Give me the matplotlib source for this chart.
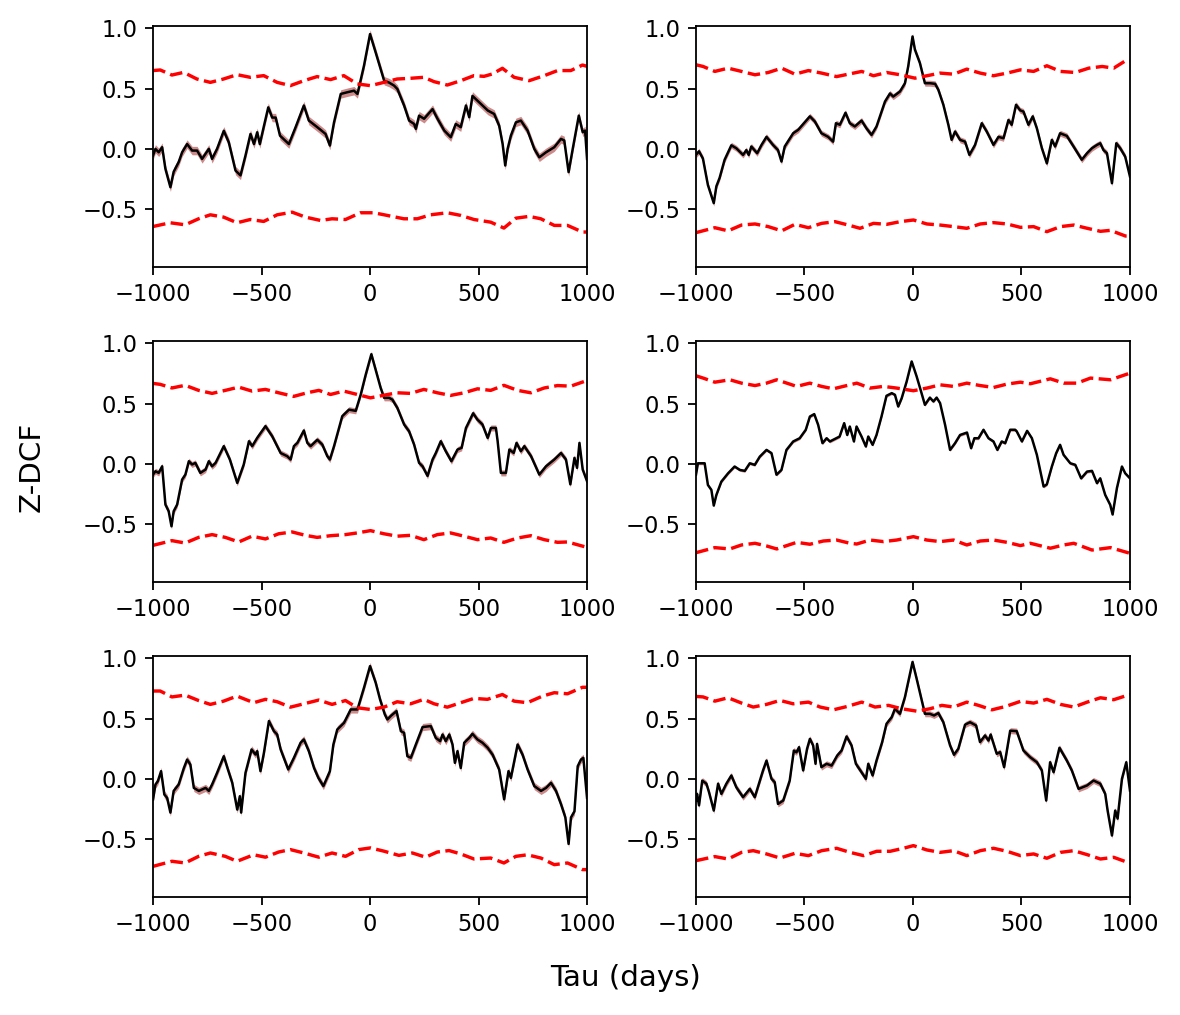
import numpy as np
import matplotlib
matplotlib.use("Agg")
import matplotlib.pyplot as plt

# ==========================================
# DATA (tau in days, value)
# ==========================================
p1_zdcf = [(-1000, -0.055), (-989, 0.0), (-974, -0.028), (-958, 0.014), (-943, -0.166), (-920, -0.318),
           (-905, -0.19), (-882, -0.11), (-866, -0.028), (-843, 0.04), (-820, -0.014), (-797, -0.014),
           (-774, -0.083), (-743, 0.0), (-728, -0.083), (-705, 0.0), (-674, 0.15), (-651, 0.055),
           (-620, -0.18), (-597, -0.22), (-574, -0.055), (-551, 0.124), (-535, 0.04), (-520, 0.138),
           (-508, 0.04), (-489, 0.19), (-469, 0.345), (-451, 0.26), (-435, 0.26), (-415, 0.11),
           (-374, 0.04), (-343, 0.18), (-305, 0.36), (-282, 0.235), (-243, 0.18), (-205, 0.124),
           (-185, 0.028), (-166, 0.22), (-135, 0.456), (-105, 0.47), (-74, 0.483), (-58, 0.456),
           (-28, 0.69), (0, 0.953), (26, 0.80), (65, 0.566), (88, 0.55), (111, 0.525), (126, 0.497),
           (157, 0.36), (180, 0.235), (203, 0.207), (211, 0.166), (226, 0.276), (249, 0.25), (288, 0.33),
           (311, 0.25), (342, 0.152), (372, 0.097), (395, 0.207), (418, 0.18), (442, 0.36), (457, 0.263),
           (472, 0.44), (495, 0.40), (543, 0.318), (572, 0.29), (595, 0.193), (611, 0.04), (623, -0.138),
           (634, 0.0), (649, 0.11), (672, 0.22), (695, 0.235), (726, 0.152), (757, 0.0), (780, -0.07),
           (811, -0.028), (849, 0.014), (880, 0.083), (895, 0.07), (915, -0.193), (934, 0.0),
           (962, 0.276), (980, 0.138), (991, 0.152), (1000, -0.083)]
p1_upper = [(-1000, 0.65), (-967, 0.655), (-913, 0.613), (-859, 0.635), (-798, 0.58), (-736, 0.552),
            (-675, 0.58), (-613, 0.616), (-552, 0.594), (-490, 0.608), (-428, 0.552), (-367, 0.525),
            (-305, 0.566), (-244, 0.60), (-182, 0.575), (-121, 0.608), (-59, 0.539), (2, 0.525),
            (64, 0.552), (125, 0.58), (187, 0.586), (248, 0.594), (295, 0.558), (356, 0.53), (418, 0.566),
            (479, 0.608), (525, 0.602), (564, 0.622), (610, 0.669), (664, 0.594), (733, 0.566),
            (803, 0.608), (864, 0.65), (925, 0.65), (979, 0.696), (1000, 0.685)]
p1_lower = [(-1000, -0.644), (-921, -0.613), (-852, -0.63), (-790, -0.58), (-736, -0.547), (-675, -0.566),
            (-613, -0.613), (-552, -0.586), (-490, -0.602), (-428, -0.547), (-359, -0.525), (-298, -0.566),
            (-228, -0.594), (-175, -0.58), (-113, -0.586), (-44, -0.53), (17, -0.53), (79, -0.552),
            (156, -0.58), (218, -0.58), (279, -0.547), (356, -0.53), (418, -0.552), (479, -0.586),
            (556, -0.608), (617, -0.657), (672, -0.575), (733, -0.56), (787, -0.58), (849, -0.635),
            (910, -0.635), (979, -0.69), (1000, -0.69)]

p2_zdcf = [(-1000, -0.05), (-986, -0.02), (-968, -0.08), (-945, -0.30), (-918, -0.45), (-906, -0.31),
           (-891, -0.24), (-868, -0.09), (-837, 0.03), (-814, 0.005), (-783, -0.05), (-768, -0.01),
           (-757, -0.05), (-745, 0.02), (-718, -0.036), (-698, 0.033), (-675, 0.10), (-645, 0.033),
           (-622, -0.01), (-606, -0.105), (-591, 0.02), (-552, 0.13), (-529, 0.158), (-475, 0.27),
           (-452, 0.227), (-422, 0.13), (-391, 0.10), (-368, 0.06), (-355, 0.213), (-337, 0.2),
           (-311, 0.30), (-291, 0.213), (-268, 0.186), (-237, 0.235), (-214, 0.17), (-191, 0.116),
           (-168, 0.186), (-129, 0.393), (-106, 0.46), (-91, 0.434), (-60, 0.476), (-37, 0.545),
           (-22, 0.684), (-2, 0.933), (9, 0.823), (32, 0.712), (55, 0.545), (78, 0.545), (102, 0.54),
           (117, 0.49), (140, 0.366), (163, 0.2), (178, 0.075), (194, 0.144), (217, 0.075), (240, 0.06),
           (260, -0.05), (286, 0.033), (317, 0.213), (340, 0.144), (371, 0.033), (394, 0.10), (417, 0.088),
           (440, 0.24), (455, 0.2), (475, 0.366), (494, 0.32), (509, 0.31), (532, 0.2), (552, 0.27),
           (571, 0.17), (594, 0.006), (617, -0.12), (640, 0.075), (655, 0.02), (678, 0.13), (709, 0.108),
           (740, 0.02), (778, -0.09), (802, -0.036), (825, 0.006), (848, 0.033), (863, 0.047),
           (878, -0.01), (894, -0.036), (917, -0.285), (937, 0.047), (955, 0.006), (978, -0.064),
           (1000, -0.23)]
p2_upper = [(-1000, 0.698), (-967, 0.684), (-913, 0.643), (-852, 0.67), (-790, 0.643), (-728, 0.615),
            (-667, 0.634), (-605, 0.67), (-544, 0.62), (-482, 0.65), (-421, 0.629), (-352, 0.60),
            (-290, 0.623), (-236, 0.643), (-182, 0.607), (-121, 0.634), (-59, 0.615), (9, 0.587),
            (64, 0.607), (125, 0.629), (187, 0.62), (248, 0.662), (310, 0.629), (371, 0.607), (433, 0.629),
            (495, 0.656), (556, 0.643), (617, 0.69), (680, 0.643), (748, 0.634), (810, 0.67), (872, 0.684),
            (925, 0.67), (979, 0.731), (1000, 0.731)]
p2_lower = [(-1000, -0.695), (-913, -0.654), (-852, -0.68), (-790, -0.632), (-728, -0.623), (-667, -0.645),
            (-605, -0.68), (-544, -0.626), (-482, -0.654), (-421, -0.618), (-359, -0.604), (-298, -0.632),
            (-244, -0.659), (-182, -0.618), (-121, -0.626), (-59, -0.604), (2, -0.59), (64, -0.623),
            (125, -0.632), (187, -0.645), (248, -0.659), (310, -0.623), (371, -0.612), (433, -0.623),
            (495, -0.651), (556, -0.645), (617, -0.687), (680, -0.645), (741, -0.632), (803, -0.659),
            (864, -0.684), (910, -0.676), (979, -0.723), (1000, -0.723)]

p3_zdcf = [(-1000, -0.089), (-989, -0.061), (-974, -0.075), (-958, -0.02), (-943, -0.338), (-928, -0.393),
           (-915, -0.518), (-905, -0.393), (-889, -0.338), (-866, -0.13), (-851, -0.089), (-835, 0.022),
           (-820, -0.005), (-805, 0.008), (-782, -0.075), (-758, -0.047), (-743, 0.022), (-728, -0.02),
           (-712, 0.008), (-674, 0.147), (-646, 0.036), (-612, -0.158), (-582, -0.005), (-558, 0.188),
           (-543, 0.147), (-520, 0.216), (-482, 0.313), (-451, 0.23), (-412, 0.09), (-382, 0.064),
           (-366, 0.036), (-351, 0.147), (-335, 0.174), (-305, 0.277), (-289, 0.174), (-274, 0.147),
           (-243, 0.2), (-220, 0.16), (-197, 0.064), (-185, 0.036), (-166, 0.147), (-128, 0.396),
           (-97, 0.45), (-66, 0.44), (-43, 0.575), (-20, 0.74), (6, 0.91), (26, 0.78), (49, 0.63),
           (65, 0.548), (88, 0.548), (103, 0.533), (126, 0.464), (157, 0.327), (180, 0.27), (203, 0.16),
           (226, 0.008), (242, -0.02), (265, -0.10), (288, 0.036), (303, 0.09), (326, 0.188), (349, 0.105),
           (375, 0.022), (403, 0.119), (422, 0.133), (442, 0.298), (475, 0.42), (495, 0.367), (518, 0.327),
           (542, 0.215), (557, 0.298), (580, 0.298), (588, 0.188), (603, -0.075), (626, -0.075),
           (642, 0.119), (662, 0.091), (675, 0.174), (695, 0.105), (711, 0.147), (742, 0.064),
           (780, -0.089), (811, -0.02), (849, 0.036), (880, 0.09), (903, 0.036), (923, -0.17), (942, 0.05),
           (954, -0.033), (965, 0.174), (980, -0.047), (1000, -0.144)]
p3_upper = [(-1000, 0.668), (-967, 0.66), (-913, 0.63), (-852, 0.652), (-790, 0.61), (-728, 0.585),
            (-667, 0.61), (-605, 0.637), (-544, 0.604), (-482, 0.618), (-421, 0.59), (-352, 0.56),
            (-290, 0.59), (-236, 0.61), (-182, 0.576), (-121, 0.604), (-59, 0.576), (2, 0.548), (64, 0.57),
            (125, 0.59), (187, 0.585), (248, 0.618), (310, 0.59), (371, 0.568), (433, 0.59), (495, 0.623),
            (556, 0.61), (617, 0.652), (680, 0.61), (741, 0.59), (803, 0.63), (864, 0.65), (925, 0.645),
            (1000, 0.692)]
p3_lower = [(-1000, -0.676), (-913, -0.637), (-852, -0.657), (-790, -0.61), (-728, -0.587), (-667, -0.61),
            (-605, -0.648), (-544, -0.60), (-482, -0.623), (-421, -0.58), (-359, -0.565), (-298, -0.593),
            (-244, -0.61), (-182, -0.596), (-113, -0.587), (-59, -0.573), (2, -0.554), (64, -0.58),
            (125, -0.60), (187, -0.593), (248, -0.629), (310, -0.587), (371, -0.573), (433, -0.60),
            (495, -0.629), (556, -0.615), (617, -0.651), (680, -0.615), (741, -0.596), (803, -0.629),
            (864, -0.651), (910, -0.648), (1000, -0.693)]

p4_zdcf = [(-1000, -0.09), (-991, 0.005), (-960, 0.005), (-945, -0.175), (-929, -0.216), (-918, -0.346),
           (-906, -0.258), (-883, -0.147), (-852, -0.078), (-822, -0.022), (-798, -0.05), (-775, -0.058),
           (-752, 0.005), (-729, -0.008), (-706, 0.06), (-675, 0.116), (-652, 0.089), (-629, -0.09),
           (-606, -0.05), (-583, 0.116), (-552, 0.186), (-522, 0.213), (-494, 0.283), (-475, 0.393),
           (-455, 0.413), (-437, 0.324), (-417, 0.172), (-398, 0.213), (-383, 0.186), (-338, 0.227),
           (-317, 0.338), (-303, 0.24), (-291, 0.31), (-272, 0.186), (-260, 0.31), (-237, 0.227),
           (-217, 0.144), (-206, 0.227), (-186, 0.158), (-168, 0.24), (-145, 0.393), (-122, 0.565),
           (-98, 0.587), (-83, 0.573), (-68, 0.476), (-52, 0.545), (-29, 0.684), (-6, 0.85), (17, 0.725),
           (35, 0.615), (55, 0.49), (78, 0.55), (94, 0.518), (109, 0.55), (125, 0.504), (148, 0.324),
           (171, 0.116), (194, 0.172), (217, 0.24), (249, 0.26), (268, 0.13), (283, 0.213), (302, 0.213),
           (325, 0.283), (348, 0.213), (371, 0.186), (389, 0.116), (409, 0.186), (425, 0.172),
           (448, 0.283), (471, 0.283), (478, 0.27), (502, 0.186), (526, 0.274), (548, 0.213), (571, 0.075),
           (602, -0.188), (617, -0.17), (640, -0.022), (660, 0.089), (678, 0.158), (694, 0.075),
           (725, 0.005), (748, -0.008), (775, -0.12), (802, -0.064), (825, -0.058), (848, -0.16),
           (863, -0.12), (886, -0.258), (909, -0.34), (920, -0.42), (940, -0.2), (963, -0.022),
           (978, -0.078), (1000, -0.12)]
p4_upper = [(-1000, 0.731), (-967, 0.712), (-913, 0.678), (-844, 0.698), (-790, 0.67), (-728, 0.65),
            (-675, 0.67), (-628, 0.698), (-536, 0.643), (-475, 0.67), (-421, 0.643), (-367, 0.623),
            (-305, 0.65), (-259, 0.67), (-198, 0.629), (-136, 0.643), (-75, 0.629), (2, 0.607), (64, 0.629),
            (125, 0.656), (187, 0.643), (248, 0.67), (310, 0.65), (371, 0.634), (433, 0.662), (495, 0.678),
            (541, 0.665), (633, 0.706), (695, 0.67), (756, 0.67), (818, 0.712), (910, 0.698), (1000, 0.753)]
p4_lower = [(-1000, -0.737), (-913, -0.695), (-844, -0.706), (-790, -0.673), (-728, -0.659), (-675, -0.681),
            (-628, -0.706), (-536, -0.651), (-475, -0.667), (-413, -0.64), (-352, -0.632), (-290, -0.659),
            (-259, -0.665), (-198, -0.632), (-136, -0.645), (-75, -0.632), (2, -0.604), (64, -0.632),
            (125, -0.645), (187, -0.632), (248, -0.673), (310, -0.64), (371, -0.632), (433, -0.651),
            (495, -0.678), (541, -0.659), (633, -0.70), (695, -0.673), (741, -0.659), (825, -0.715),
            (910, -0.695), (1000, -0.742)]

p5_zdcf = [(-1000, -0.17), (-989, -0.047), (-978, -0.02), (-963, 0.064), (-948, -0.13), (-935, -0.158),
           (-920, -0.28), (-905, -0.10), (-882, -0.047), (-858, 0.09), (-843, 0.16), (-828, 0.119),
           (-812, -0.075), (-789, -0.10), (-758, -0.075), (-743, -0.10), (-728, -0.047), (-705, 0.05),
           (-674, 0.188), (-655, 0.078), (-635, -0.033), (-612, -0.255), (-600, -0.144), (-594, -0.28),
           (-574, 0.05), (-546, 0.244), (-528, 0.202), (-520, 0.23), (-505, 0.064), (-489, 0.216),
           (-466, 0.48), (-443, 0.396), (-428, 0.368), (-412, 0.244), (-377, 0.078), (-351, 0.174),
           (-320, 0.3), (-305, 0.327), (-282, 0.23), (-258, 0.09), (-238, 0.008), (-215, -0.06),
           (-185, 0.064), (-169, 0.285), (-151, 0.41), (-120, 0.465), (-89, 0.576), (-58, 0.576),
           (-28, 0.756), (0, 0.936), (26, 0.798), (46, 0.66), (68, 0.535), (80, 0.493), (98, 0.526),
           (122, 0.562), (142, 0.396), (157, 0.382), (172, 0.188), (188, 0.175), (211, 0.285), (242, 0.43),
           (280, 0.438), (303, 0.34), (323, 0.313), (334, 0.368), (349, 0.313), (365, 0.368), (380, 0.285),
           (391, 0.133), (403, 0.23), (418, 0.09), (434, 0.3), (457, 0.34), (472, 0.374), (495, 0.327),
           (518, 0.3), (542, 0.258), (565, 0.2), (595, 0.078), (618, -0.17), (638, 0.064), (649, 0.008),
           (680, 0.285), (703, 0.2), (726, 0.078), (757, -0.06), (788, -0.10), (811, -0.075),
           (834, -0.033), (857, -0.10), (880, -0.21), (900, -0.32), (915, -0.54), (926, -0.32),
           (942, -0.27), (957, 0.105), (972, 0.16), (983, 0.174), (1000, -0.158)]
p5_upper = [(-1000, 0.729), (-967, 0.729), (-913, 0.68), (-852, 0.695), (-790, 0.65), (-736, 0.618),
            (-675, 0.645), (-613, 0.687), (-536, 0.632), (-482, 0.66), (-428, 0.64), (-367, 0.595),
            (-305, 0.623), (-236, 0.654), (-175, 0.618), (-113, 0.65), (-59, 0.59), (2, 0.576), (64, 0.595),
            (125, 0.64), (187, 0.623), (248, 0.66), (295, 0.623), (356, 0.595), (418, 0.632), (479, 0.668),
            (541, 0.66), (610, 0.70), (664, 0.645), (725, 0.632), (795, 0.687), (849, 0.715), (910, 0.706),
            (979, 0.76), (1000, 0.76)]
p5_lower = [(-1000, -0.726), (-913, -0.684), (-852, -0.698), (-790, -0.643), (-736, -0.615), (-667, -0.643),
            (-613, -0.684), (-536, -0.63), (-482, -0.65), (-421, -0.607), (-367, -0.587), (-305, -0.615),
            (-236, -0.65), (-175, -0.615), (-113, -0.643), (-52, -0.587), (2, -0.573), (64, -0.60),
            (133, -0.635), (195, -0.615), (256, -0.65), (310, -0.607), (364, -0.595), (418, -0.623),
            (479, -0.665), (556, -0.657), (617, -0.698), (672, -0.643), (725, -0.63), (787, -0.657),
            (849, -0.712), (910, -0.698), (979, -0.753), (1000, -0.753)]

p6_zdcf = [(-1000, -0.18), (-995, -0.125), (-986, -0.22), (-971, -0.014), (-952, -0.04), (-940, -0.11),
           (-918, -0.263), (-898, -0.04), (-883, -0.125), (-860, -0.04), (-837, 0.028), (-814, -0.07),
           (-783, -0.152), (-752, -0.083), (-729, -0.152), (-691, 0.07), (-675, 0.152), (-652, 0.0),
           (-637, -0.028), (-622, -0.208), (-598, -0.18), (-568, -0.014), (-549, 0.235), (-537, 0.22),
           (-525, 0.263), (-506, 0.07), (-488, 0.25), (-475, 0.332), (-460, 0.277), (-449, 0.125),
           (-442, 0.29), (-422, 0.097), (-398, 0.125), (-375, 0.11), (-349, 0.194), (-329, 0.235),
           (-306, 0.352), (-283, 0.277), (-263, 0.125), (-237, 0.055), (-217, 0.0), (-206, 0.125),
           (-186, 0.028), (-168, 0.152), (-142, 0.305), (-122, 0.457), (-98, 0.512), (-83, 0.582),
           (-60, 0.54), (-37, 0.679), (-2, 0.97), (17, 0.83), (35, 0.693), (55, 0.54), (78, 0.54),
           (97, 0.526), (117, 0.546), (140, 0.47), (171, 0.277), (189, 0.2), (209, 0.25), (240, 0.45),
           (263, 0.47), (291, 0.443), (309, 0.305), (332, 0.36), (348, 0.318), (358, 0.368), (386, 0.208),
           (402, 0.222), (420, 0.097), (448, 0.40), (478, 0.396), (509, 0.235), (540, 0.18), (571, 0.138),
           (594, 0.07), (614, -0.18), (632, 0.138), (648, 0.055), (675, 0.258), (709, 0.152), (732, 0.07),
           (763, -0.083), (802, -0.055), (832, -0.014), (863, -0.04), (886, -0.125), (897, -0.263),
           (917, -0.47), (932, -0.263), (943, -0.33), (963, 0.0), (983, 0.138), (1000, -0.097)]
p6_upper = [(-1000, 0.684), (-967, 0.68), (-913, 0.645), (-852, 0.673), (-790, 0.629), (-736, 0.596),
            (-675, 0.618), (-613, 0.651), (-552, 0.623), (-482, 0.637), (-428, 0.596), (-367, 0.573),
            (-305, 0.60), (-236, 0.637), (-175, 0.596), (-113, 0.61), (-52, 0.582), (17, 0.562), (79, 0.582),
            (133, 0.61), (187, 0.596), (248, 0.637), (302, 0.61), (364, 0.573), (425, 0.60), (495, 0.643),
            (556, 0.629), (617, 0.66), (680, 0.618), (741, 0.596), (803, 0.637), (864, 0.673), (925, 0.657),
            (1000, 0.70)]
p6_lower = [(-1000, -0.679), (-913, -0.645), (-852, -0.665), (-790, -0.61), (-736, -0.596), (-675, -0.623),
            (-613, -0.657), (-544, -0.618), (-482, -0.637), (-421, -0.596), (-352, -0.576), (-290, -0.61),
            (-228, -0.637), (-167, -0.601), (-105, -0.601), (-44, -0.576), (2, -0.554), (64, -0.59),
            (125, -0.61), (187, -0.596), (248, -0.637), (310, -0.596), (371, -0.576), (433, -0.601),
            (495, -0.637), (556, -0.623), (617, -0.659), (680, -0.61), (741, -0.596), (803, -0.629),
            (864, -0.665), (925, -0.651), (1000, -0.70)]

# half-width of the error band in each panel
band_err = [0.035, 0.025, 0.025, 0.012, 0.03, 0.025]

panels = [(p1_zdcf, p1_upper, p1_lower), (p2_zdcf, p2_upper, p2_lower),
          (p3_zdcf, p3_upper, p3_lower), (p4_zdcf, p4_upper, p4_lower),
          (p5_zdcf, p5_upper, p5_lower), (p6_zdcf, p6_upper, p6_lower)]

# ==========================================
# PLOT
# ==========================================
fig, axes = plt.subplots(3, 2, figsize=(1180 / 163, 1015 / 163), dpi=163)
fig.subplots_adjust(left=0.1297, right=0.9576, top=0.9744, bottom=0.1163,
                    wspace=0.251, hspace=0.307)

for ax, (zdcf, upper, lower), err in zip(axes.flat, panels, band_err):
    tau, val = np.array(zdcf).T
    ax.fill_between(tau, val - err, val + err, color='brown', alpha=0.55, lw=0)
    ax.plot(tau, val, color='black', lw=1.1)
    tu, vu = np.array(upper).T
    tl, vl = np.array(lower).T
    ax.plot(tu, vu, 'r--', lw=1.5)
    ax.plot(tl, vl, 'r--', lw=1.5)
    ax.set_xlim(-1000, 1000)
    ax.set_ylim(-0.98, 1.02)
    ax.set_xticks([-1000, -500, 0, 500, 1000])
    ax.set_yticks([-0.5, 0.0, 0.5, 1.0])

fig.text(0.027, 0.54, 'Z-DCF', rotation=90, ha='center', va='center', fontsize=13)
fig.text(0.53, 0.036, 'Tau (days)', ha='center', va='center', fontsize=13)

fig.savefig('out.png', dpi=163)
